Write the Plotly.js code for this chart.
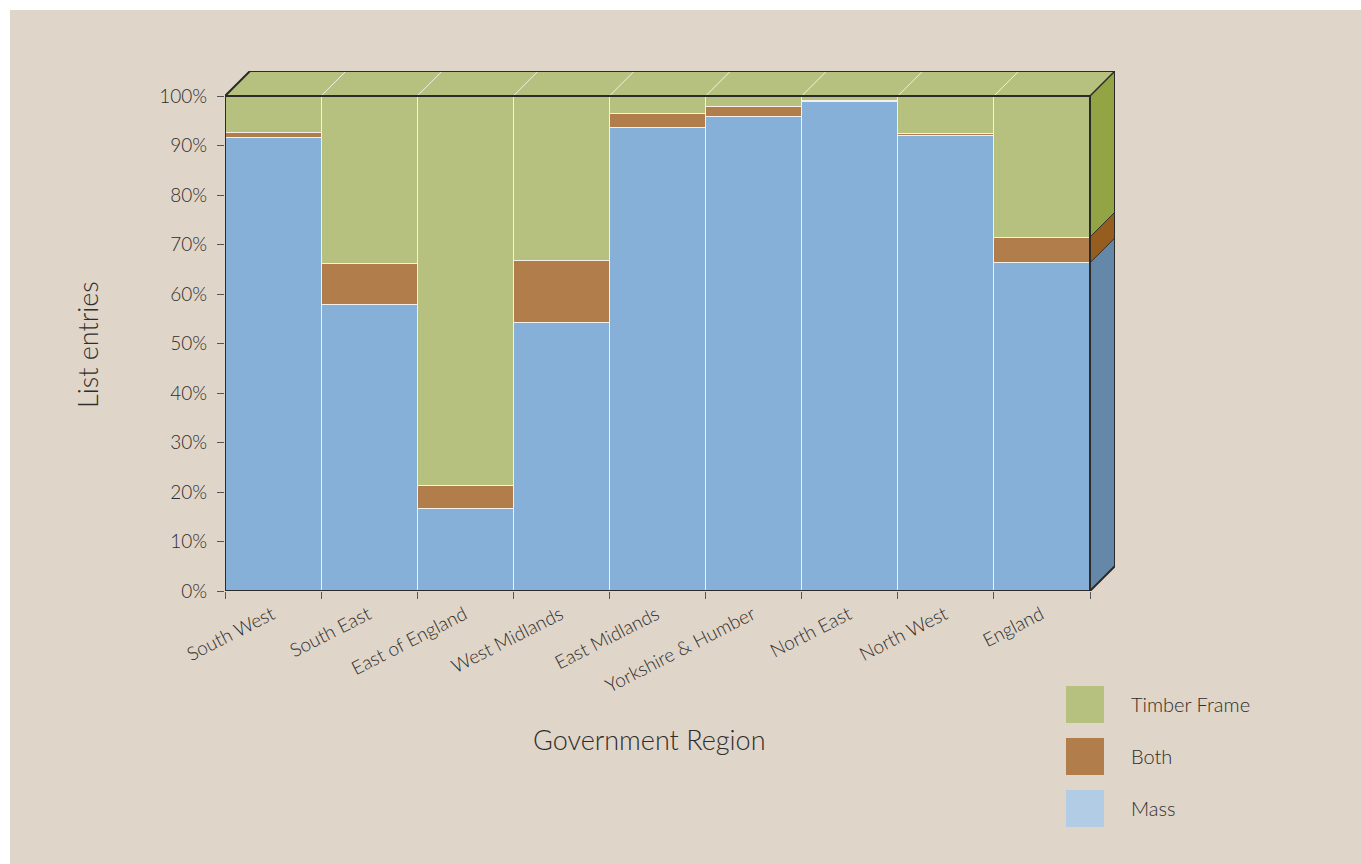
<!DOCTYPE html>
<html>
<head>
<meta charset="utf-8">
<script src="https://cdn.plot.ly/plotly-3.0.1.min.js"></script>
<style>
  html, body { margin: 0; padding: 0; background: #ffffff; }
  #chart { position: absolute; left: 10px; top: 10px; width: 1351px; height: 854px; }
</style>
</head>
<body>
<div id="chart"></div>
<script>
// ---- data ----
const regions = ["South West", "South East", "East of England", "West Midlands", "East Midlands",
                 "Yorkshire & Humber", "North East", "North West", "England"];
const mass   = [91.7, 57.8, 16.6, 54.3, 93.7, 95.8, 98.8, 92.1, 66.3];
const both   = [1.0,  8.4,  4.8, 12.4,  2.7,  2.0,  0.2,  0.4,  5.2];
const timber = [7.3, 33.8, 78.6, 33.3,  3.6,  2.2,  1.0,  7.5, 28.5];
const seriesNames = ["Timber Frame", "Both", "Mass"];
const yTickVals = [0, 10, 20, 30, 40, 50, 60, 70, 80, 90, 100];
const yTickText = ["0%", "10%", "20%", "30%", "40%", "50%", "60%", "70%", "80%", "90%", "100%"];

// ---- style ----
const C = {
  timber: "#b6c07f", both: "#b07d4b", mass: "#86b0d7",
  timberSide: "#93a444", bothSide: "#955e1f", massSide: "#6688a8",
  massLegend: "#b2cce6", dark: "#2b2b2b", text: "#2f2d2b", bg: "#e0d5c9"
};
const W = 1351, H = 854;
const M = { l: 215, r: 246, t: 61, b: 273 };
const plotW = W - M.l - M.r, plotH = H - M.t - M.b;
const depth = 25; // px of the 3D offset
const n = regions.length;
const catW = (plotW - depth) / n;
const dx = depth / catW;
const yPx = (plotH - depth) / 100;
const dy = depth / yPx;
const xMin = -0.5, xMax = n - 0.5;

const font = { family: "Lato, 'Open Sans', sans-serif", color: C.text, weight: 300 };

function bar(name, vals, color) {
  return {
    type: "bar", name: name, x: regions, y: vals,
    marker: { color: color, line: { color: "#f4efe8", width: 1 } },
    hoverinfo: "x+y+name", showlegend: false
  };
}
const traces = [bar("Mass", mass, C.mass), bar("Both", both, C.both), bar("Timber Frame", timber, C.timber)];

const shapes = [];
const X = "x2", Y = "y";
// top face
shapes.push({ type: "path", xref: X, yref: Y, layer: "above",
  path: `M${xMin},100 L${xMin + dx},${100 + dy} L${xMax + dx},${100 + dy} L${xMax},100 Z`,
  fillcolor: C.timber, line: { width: 0 } });
// white separators on top face
for (let i = 0; i < n - 1; i++) {
  const bx = i + 0.5;
  shapes.push({ type: "line", xref: X, yref: Y, layer: "above",
    x0: bx, y0: 100, x1: bx + dx, y1: 100 + dy, line: { color: "#f4efe8", width: 1 } });
}
// right side faces for last bar segments
const last = n - 1;
const segs = [[0, mass[last], C.massSide],
              [mass[last], mass[last] + both[last], C.bothSide],
              [mass[last] + both[last], mass[last] + both[last] + timber[last], C.timberSide]];
segs.forEach(s => {
  shapes.push({ type: "path", xref: X, yref: Y, layer: "above",
    path: `M${xMax},${s[0]} L${xMax + dx},${s[0] + dy} L${xMax + dx},${s[1] + dy} L${xMax},${s[1]} Z`,
    fillcolor: s[2], line: { width: 0 } });
});
// dark outlines
const ol = { color: C.dark, width: 2 };
shapes.push({ type: "path", xref: X, yref: Y, layer: "above",
  path: `M${xMin},0 L${xMin},100 L${xMax},100 L${xMax},0 Z`, line: ol });
shapes.push({ type: "path", xref: X, yref: Y, layer: "above",
  path: `M${xMin},100 L${xMin + dx},${100 + dy} L${xMax + dx},${100 + dy} L${xMax + dx},${dy} L${xMax},0`, line: ol });
shapes.push({ type: "line", xref: X, yref: Y, layer: "above",
  x0: xMax, y0: 100, x1: xMax + dx, y1: 100 + dy, line: { color: C.dark, width: 1.5 } });
// side boundary lines
[mass[last], mass[last] + both[last]].forEach(v => {
  shapes.push({ type: "line", xref: X, yref: Y, layer: "above",
    x0: xMax, y0: v, x1: xMax + dx, y1: v + dy, line: { color: C.dark, width: 1 } });
});

// legend (drawn manually to get large swatches)
function px2paperX(p) { return (p - M.l) / plotW; }
function px2paperY(p) { return (H - M.b - p) / plotH; }
const legendColors = [C.timber, C.both, C.massLegend];
const annotations = [];
seriesNames.forEach((nm, i) => {
  const top = 676 + i * 52;
  shapes.push({ type: "rect", xref: "paper", yref: "paper",
    x0: px2paperX(1056), x1: px2paperX(1094), y0: px2paperY(top), y1: px2paperY(top + 37),
    fillcolor: legendColors[i], line: { width: 0 } });
  annotations.push({ xref: "paper", yref: "paper", x: px2paperX(1119), y: px2paperY(top + 18),
    xanchor: "left", yanchor: "middle", showarrow: false, text: nm,
    font: Object.assign({}, font, { size: 20 }) });
});
// axis titles
annotations.push({ xref: "paper", yref: "paper", x: px2paperX(639), y: px2paperY(730),
  xanchor: "center", yanchor: "middle", showarrow: false, text: "Government Region",
  font: Object.assign({}, font, { size: 27 }) });
annotations.push({ xref: "paper", yref: "paper", x: px2paperX(77), y: px2paperY(335),
  xanchor: "center", yanchor: "middle", showarrow: false, text: "List entries", textangle: -90,
  font: Object.assign({}, font, { size: 27 }) });

const layout = {
  width: W, height: H,
  margin: M,
  paper_bgcolor: C.bg, plot_bgcolor: "rgba(0,0,0,0)",
  barmode: "stack", bargap: 0,
  showlegend: false,
  font: font,
  xaxis: {
    type: "category", range: [xMin, xMax + dx], showgrid: false, zeroline: false, showline: false,
    ticks: "outside", tickson: "boundaries", ticklen: 7, tickcolor: "#555", tickwidth: 1,
    tickangle: -27, ticklabelstandoff: 8, ticklabelshift: -1,
    tickfont: Object.assign({}, font, { size: 19 }), fixedrange: true
  },
  xaxis2: { overlaying: "x", range: [xMin, xMax + dx], visible: false, fixedrange: true },
  yaxis: {
    range: [0, 100 + dy], showgrid: false, zeroline: false, showline: false,
    tickvals: yTickVals, ticktext: yTickText, ticks: "outside", ticklen: 7, tickcolor: "#555",
    ticklabelstandoff: 6,
    tickfont: Object.assign({}, font, { size: 19 }), fixedrange: true
  },
  shapes: shapes,
  annotations: annotations
};

Plotly.newPlot("chart", traces, layout, { displayModeBar: false, staticPlot: true });
</script>
</body>
</html>
